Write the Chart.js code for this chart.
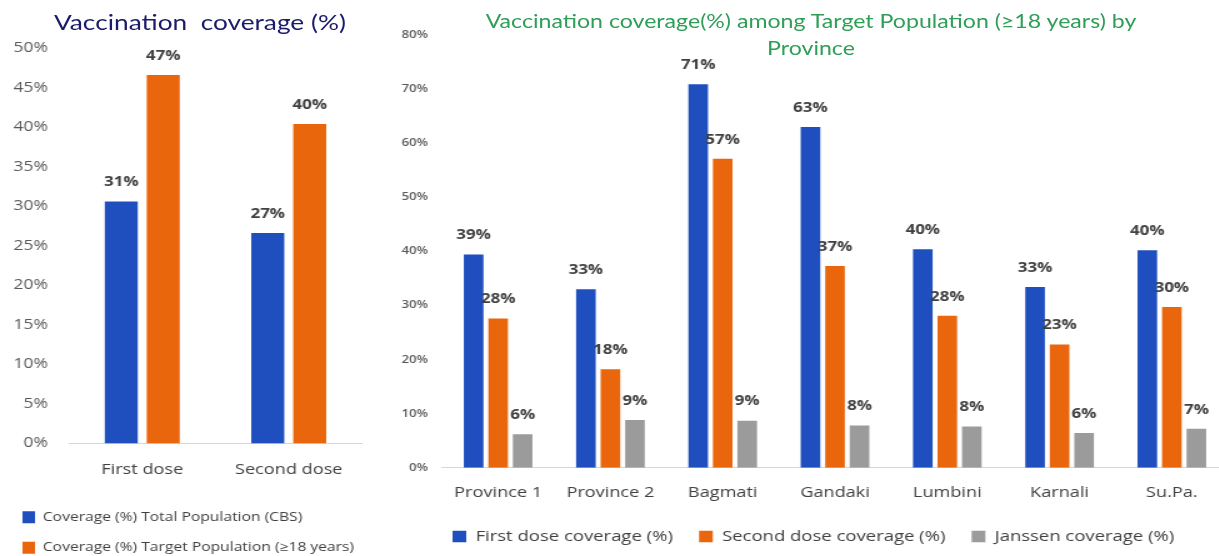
<!DOCTYPE html>
<html>
<head>
<meta charset="utf-8">
<script src="https://cdn.jsdelivr.net/npm/chart.js@4"></script>
<style>
  html, body { margin:0; padding:0; background:#fff; overflow:hidden; width:1219px; height:556px; }
  #wrap { position:absolute; left:0; top:0; width:975.2px; height:564px; transform:scaleX(1.25); transform-origin:0 0; }
  canvas { position:absolute; top:0; }
  .title { position:absolute; font-family:Lato, "Open Sans", sans-serif; text-align:center; white-space:nowrap; }
</style>
</head>
<body>
<div id="wrap">
  <canvas id="left" width="304" height="564" style="left:0"></canvas>
  <canvas id="right" width="688" height="556" style="left:304px"></canvas>
  <div class="title" style="left:0;width:320px;top:8px;font-size:21px;line-height:28px;color:#1b1b6b;">Vaccination&nbsp; coverage (%)</div>
  <div class="title" style="left:248.8px;width:800px;top:8px;font-size:18.5px;line-height:27px;color:#2f9e57;">Vaccination coverage(%) among Target Population (≥18 years) by<br>Province</div>
</div>
<script>
// ---------- data ----------
const doseCategories = ["First dose", "Second dose"];
const totalPopCoverage = [30.6, 26.6];
const targetPopCoverage = [46.6, 40.4];

const provinces = ["Province 1", "Province 2", "Bagmati", "Gandaki", "Lumbini", "Karnali", "Su.Pa."];
const firstDose = [39.4, 33.0, 70.9, 63.0, 40.4, 33.4, 40.2];
const secondDose = [27.6, 18.2, 57.1, 37.3, 28.1, 22.8, 29.7];
const janssen = [6.2, 8.8, 8.7, 7.8, 7.6, 6.4, 7.2];

const leftTicks = { min: 0, max: 50, step: 5 };
const rightTicks = { min: 0, max: 80, step: 10 };

const BLUE = "#1f4fbe", ORANGE = "#ea660d", GRAY = "#9b9b9b";

// ---------- value labels plugin ----------
function valueLabels(fontSize) {
  return {
    id: "valueLabels",
    afterDatasetsDraw(chart) {
      const ctx = chart.ctx;
      ctx.save();
      ctx.font = "700 " + fontSize + "px 'Open Sans', sans-serif";
      ctx.fillStyle = "#404040";
      ctx.textAlign = "center";
      ctx.textBaseline = "middle";
      chart.data.datasets.forEach((ds, i) => {
        const meta = chart.getDatasetMeta(i);
        meta.data.forEach((el, j) => {
          ctx.fillText(Math.round(ds.data[j]) + "%", el.x, el.y - 19);
        });
      });
      ctx.restore();
    }
  };
}

Chart.defaults.font.family = "'Open Sans', sans-serif";
Chart.defaults.color = "#404040";

// ---------- left chart ----------
new Chart(document.getElementById("left"), {
  type: "bar",
  data: {
    labels: doseCategories,
    datasets: [
      { label: "Coverage (%) Total Population (CBS)", data: totalPopCoverage, backgroundColor: BLUE },
      { label: "Coverage (%) Target Population (≥18 years)", data: targetPopCoverage, backgroundColor: ORANGE }
    ]
  },
  options: {
    responsive: false,
    animation: false,
    barPercentage: 0.786,
    categoryPercentage: 0.573,
    layout: { padding: { top: 48, right: 14.4, bottom: 0, left: 0 } },
    plugins: {
      title: { display: false },
      tooltip: { enabled: false },
      legend: {
        position: "bottom",
        align: "start",
        labels: { boxWidth: 10, boxHeight: 12, padding: 18, color: "#404040", font: { size: 12.5 } }
      }
    },
    scales: {
      x: {
        grid: { display: false, drawTicks: false },
        border: { display: true, color: "#d6d6d6", width: 1 },
        ticks: { padding: 17.3, color: "#404040", font: { size: 14.5 } },
        afterFit(s) { s.height = 49.5; }
      },
      y: {
        min: leftTicks.min, max: leftTicks.max,
        grid: { display: false, drawTicks: false },
        border: { display: false },
        ticks: { stepSize: leftTicks.step, padding: 16.8, color: "#595959", font: { size: 14 }, callback: v => v + "%" },
        afterFit(s) { s.width = 55.2; }
      }
    }
  },
  plugins: [valueLabels(13.5)]
});

// ---------- right chart ----------
new Chart(document.getElementById("right"), {
  type: "bar",
  data: {
    labels: provinces,
    datasets: [
      { label: "First dose coverage (%)", data: firstDose, backgroundColor: BLUE },
      { label: "Second dose coverage (%)", data: secondDose, backgroundColor: ORANGE },
      { label: "Janssen coverage (%)", data: janssen, backgroundColor: GRAY }
    ]
  },
  options: {
    responsive: false,
    animation: false,
    barPercentage: 0.8,
    categoryPercentage: 0.655,
    layout: { padding: { top: 35, right: 9.6, bottom: 2, left: 15 } },
    plugins: {
      title: { display: false },
      tooltip: { enabled: false },
      legend: {
        position: "bottom",
        labels: { boxWidth: 11, boxHeight: 11.5, padding: 21, color: "#404040", font: { size: 14.8 } }
      }
    },
    scales: {
      x: {
        grid: { display: false, drawTicks: false },
        border: { display: true, color: "#d6d6d6", width: 1 },
        ticks: { padding: 16.6, color: "#404040", font: { size: 14.5 } },
        afterFit(s) { s.height = 40.5; }
      },
      y: {
        min: rightTicks.min, max: rightTicks.max,
        grid: { display: false, drawTicks: false },
        border: { display: false },
        ticks: { stepSize: rightTicks.step, padding: 11.2, color: "#595959", font: { size: 10.5, weight: "600" }, callback: v => v + "%" },
        afterFit(s) { s.width = 34.6; }
      }
    }
  },
  plugins: [valueLabels(13.5)]
});
</script>
</body>
</html>
